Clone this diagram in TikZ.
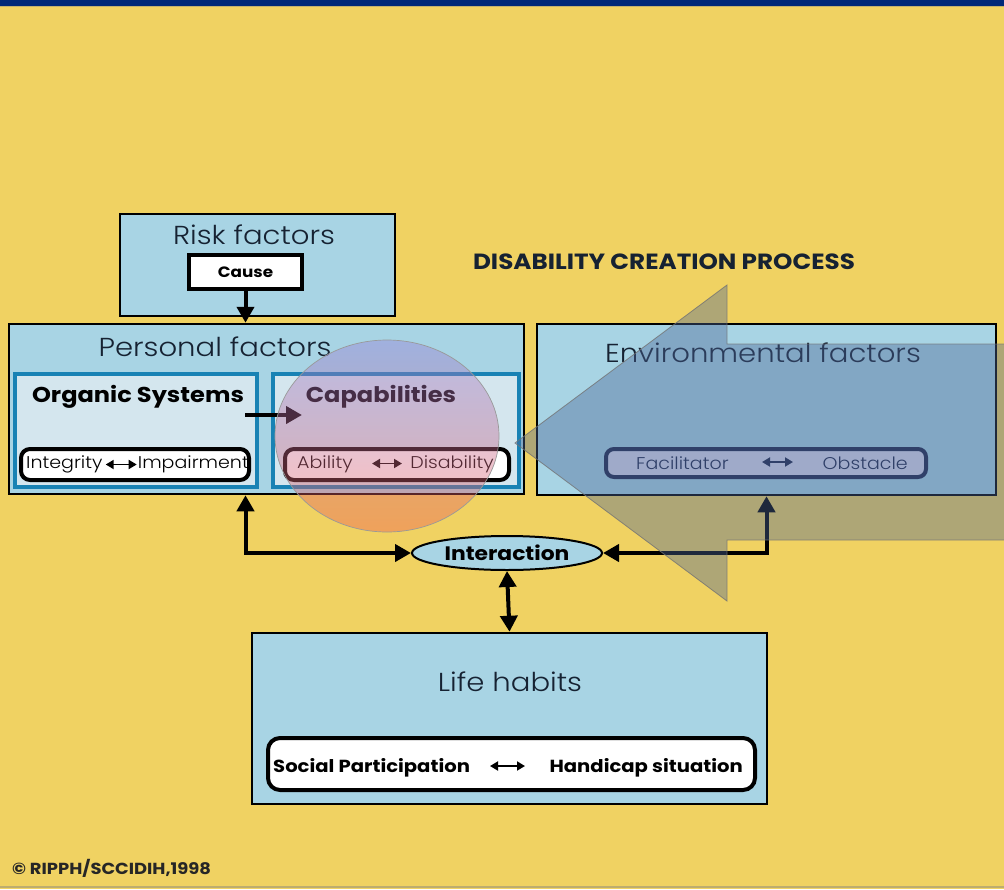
\documentclass[tikz,border=0pt]{standalone}
\usepackage{fontspec}
\setmainfont{Poppins}[FakeStretch=1.12]
\IfFontExistsTF{Poppins Light}{\newfontfamily\lightf{Poppins Light}[FakeStretch=1.12]}{\newfontfamily\lightf{Poppins}[FakeStretch=1.12]}
\usetikzlibrary{arrows.meta,shapes.geometric,calc}
\definecolor{bgy}{RGB}{240,210,98}
\definecolor{navyband}{RGB}{0,40,120}
\definecolor{lblue}{RGB}{168,212,228}
\definecolor{pale}{RGB}{212,230,238}
\definecolor{midblue}{RGB}{24,130,180}
\definecolor{ink}{RGB}{22,34,50}
\definecolor{navyink}{RGB}{30,40,75}
\definecolor{arrowc}{RGB}{75,100,150}
\definecolor{facfill}{RGB}{215,218,236}
\definecolor{ctop}{RGB}{150,125,215}
\definecolor{cmid}{RGB}{255,116,172}
\definecolor{cbot}{RGB}{240,90,80}
\tikzset{
  bigbox/.style={draw=black, line width=2.5pt, fill=lblue, inner sep=0pt},
  subbox/.style={draw=midblue, line width=4pt, fill=pale, inner sep=0pt},
  pill/.style={draw=black, line width=4pt, fill=white, rounded corners=9pt, inner sep=0pt},
  title/.style={font=\lightf\fontsize{26}{30}\selectfont, text=ink, inner sep=0pt},
  boldlbl/.style={font=\bfseries\fontsize{21.5}{25}\selectfont, text=black, inner sep=0pt},
  pilltxt/.style={font=\lightf\fontsize{17}{20}\selectfont, text=black, inner sep=0pt},
  pillbold/.style={font=\bfseries\fontsize{17.5}{20}\selectfont, text=black, inner sep=0pt},
  conn/.style={line width=4pt, draw=black, {Triangle[width=17pt,length=16pt]}-{Triangle[width=17pt,length=16pt]}},
  oneway/.style={line width=4pt, draw=black, -{Triangle[width=17pt,length=16pt]}},
  small2/.style={line width=1.8pt, {Triangle[width=9pt,length=8pt]}-{Triangle[width=9pt,length=8pt]}}
}
\begin{document}
\begin{tikzpicture}[x=1pt,y=-1pt]
\useasboundingbox (0,0) rectangle (1004,889);
\fill[bgy] (0,0) rectangle (1004,889);
\fill[navyband] (0,0) rectangle (1004,5.5);
\draw[line width=1.2pt, color=bgy!60!gray] (0,6.5) -- (1004,6.5);
\draw[line width=1.5pt, color=bgy!55!gray] (0,887) -- (1004,887);

% Risk factors
\node[bigbox, minimum width=275pt, minimum height=102pt] (risk) at (257.5,265) {};
\node[title] (risktitle) at (254,235) {Risk factors};
\node[draw=black, line width=4pt, fill=white, minimum width=113pt, minimum height=34pt, inner sep=0pt,
      font=\bfseries\fontsize{15}{18}\selectfont] (cause) at (245.5,272) {Cause};

% Personal factors
\node[bigbox, minimum width=515pt, minimum height=170pt] (personal) at (266.5,409) {};
\draw[oneway] (cause.south) -- (cause.south |- personal.north);
\node[title] (perstitle) at (215,347) {Personal factors};
\node[subbox, minimum width=242pt, minimum height=113pt] (organic) at (136,430.5) {};
\node[subbox, minimum width=246pt, minimum height=113pt] (cap) at (396,430.5) {};
\node[boldlbl] (orglbl) at (138,397) {Organic Systems};
\node[boldlbl] (caplbl) at (381,397) {Capabilities};
\coordinate (oa) at (245,415);
\coordinate (ob) at (302,415);
\draw[oneway] (oa) -- (ob);
\node[pill, minimum width=228pt, minimum height=31pt] (integ) at (135,464.5) {};
\node[pilltxt, anchor=west] (integw) at (26,464.5) {Integrity};
\node[pilltxt, anchor=east] (impw) at (249,464.5) {Impairment};
\draw[small2] ($(integw.east)+(3,0)$) -- ($(impw.west)+(-1,0)$);
\node[pill, minimum width=224pt, minimum height=31pt] (abil) at (397,464.5) {};
\node[pilltxt, anchor=west] (abw) at (297,464.5) {Ability};
\node[pilltxt, anchor=east] (disw) at (494,464.5) {Disability};
\coordinate (aa) at (372,463.5);
\coordinate (ab) at (402,463.5);
\draw[small2] (aa) -- (ab);

% Environmental factors
\node[bigbox, minimum width=459pt, minimum height=171pt] (env) at (766.5,409.5) {};
\node[title] (envtitle) at (763,353) {Environmental factors};
\node[draw=navyink, line width=4pt, fill=facfill, rounded corners=8pt, inner sep=0pt,
      minimum width=320pt, minimum height=28pt] (facil) at (766,463) {};
\node[pilltxt, text=navyink, anchor=west] (facw) at (636,463) {Facilitator};
\node[pilltxt, text=navyink, anchor=east] (obsw) at (908,463) {Obstacle};
\coordinate (fa) at (762,462);
\coordinate (fb) at (793,462);
\draw[small2, navyink] (fa) -- (fb);

% Interaction
\node[ellipse, draw=black, line width=2pt, fill=lblue, minimum width=190pt, minimum height=34pt, inner sep=0pt,
      font=\bfseries\fontsize{19.5}{22}\selectfont] (inter) at (507,553) {Interaction};
\draw[conn] (personal.south -| cause.south) |- (inter.west);
\draw[conn] (env.south) |- (inter.east);

% Life habits
\node[bigbox, minimum width=515pt, minimum height=171pt] (life) at (509.5,718.5) {};
\draw[conn] (inter.south) -- (life.north);
\node[title] (lifetitle) at (510,682) {Life habits};
\node[pill, minimum width=487pt, minimum height=52pt, rounded corners=12pt] (social) at (511.5,764) {};
\node[pillbold, anchor=west] (socw) at (273,768) {Social Participation};
\node[pillbold, anchor=east] (hanw) at (743,768) {Handicap situation};
\coordinate (sa) at (490,766);
\coordinate (sb) at (525,766);
\draw[small2] (sa) -- (sb);

% translucent circle
\path[top color=ctop, middle color=cmid, bottom color=cbot, fill opacity=0.4]
  (387,436) ellipse [x radius=112, y radius=96];
\draw[line width=0.7pt, color=black!40] (387,436) ellipse [x radius=112, y radius=96];

% big translucent arrow
\path[fill=arrowc, fill opacity=0.4, draw=black!55, draw opacity=0.8, line width=0.8pt]
  (1010,344) -- (727,344) -- (727,285) -- (515,443) -- (727,601) -- (727,540) -- (1010,540);

% texts
\node[font=\bfseries\fontsize{22}{26}\selectfont, text=ink, inner sep=0pt] (dcp) at (664,262) {DISABILITY CREATION PROCESS};
\node[font=\bfseries\fontsize{16}{19}\selectfont, text=black!85, anchor=west, inner sep=0pt] (copy) at (12,868) {© RIPPH/SCCIDIH,1998};
\end{tikzpicture}
\end{document}
